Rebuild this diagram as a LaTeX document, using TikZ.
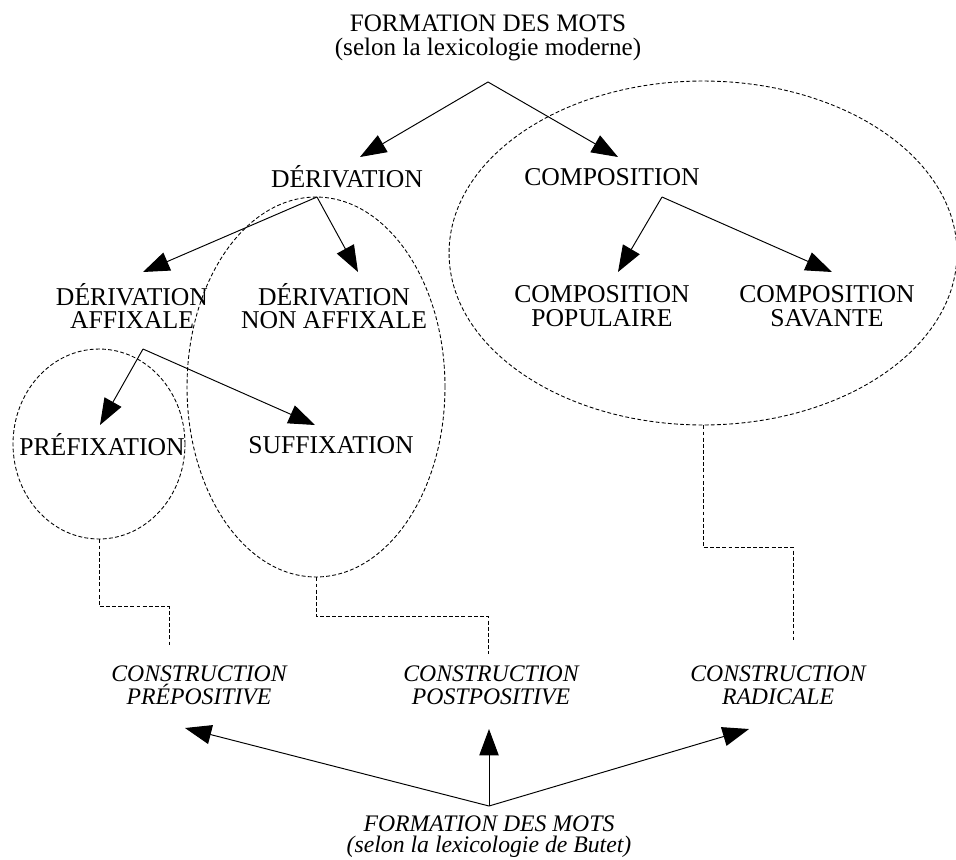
\documentclass[tikz,border=0pt]{standalone}
\usepackage{fontspec}
\setmainfont{Liberation Serif}
\usetikzlibrary{arrows.meta,shapes.geometric}

\tikzset{
    lbl/.style={align=center, inner sep=1pt, font=\fontsize{14.6}{13.4}\selectfont},
    ilbl/.style={align=center, inner sep=1pt, font=\fontsize{13.5}{13}\selectfont\itshape},
    ttl/.style={align=center, inner sep=1pt, font=\fontsize{14.3}{13.6}\selectfont},
    arr/.style={-{Triangle[length=15pt,width=11pt]}, line width=0.55pt},
    zone/.style={ellipse, draw, dash pattern=on 2.2pt off 1.3pt, line width=0.5pt, inner sep=0pt},
    link/.style={dash pattern=on 2.2pt off 1.3pt, line width=0.5pt}
}

\begin{document}
\begin{tikzpicture}[x=0.02cm, y=-0.02cm]
        \useasboundingbox (0,0) rectangle (956,859);

        \node[zone, minimum width=3.44cm, minimum height=3.8cm] (ePre) at (99,444) {};
        \node[zone, minimum width=5.16cm, minimum height=7.6cm] (eMid) at (316,387) {};
        \node[zone, minimum width=10.16cm, minimum height=6.88cm] (eCom) at (703,253) {};

        \node[ttl] (haut) at (488,38) {FORMATION DES MOTS\\(selon la lexicologie moderne)};
        \node[lbl] (deriv) at (347,177) {DÉRIVATION};
        \node[lbl] (compo) at (612,177) {COMPOSITION};
        \node[lbl] (dAff) at (132,306) {DÉRIVATION\\AFFIXALE};
        \node[lbl] (dNon) at (334,306) {DÉRIVATION\\NON AFFIXALE};
        \node[lbl] (cPop) at (602,306) {COMPOSITION\\POPULAIRE};
        \node[lbl] (cSav) at (827,306) {COMPOSITION\\SAVANTE};
        \node[lbl] (pref) at (102,445) {PRÉFIXATION};
        \node[lbl] (suff) at (331,445) {SUFFIXATION};

        \node[ilbl] (cPre) at (199,685) {CONSTRUCTION\\PRÉPOSITIVE};
        \node[ilbl] (cPost) at (491,685) {CONSTRUCTION\\POSTPOSITIVE};
        \node[ilbl] (cRad) at (778,685) {CONSTRUCTION\\RADICALE};
        \node[ttl, font=\fontsize{13.5}{12}\selectfont\itshape] (bas) at (489,837) {FORMATION DES MOTS\\(selon la lexicologie de Butet)};

        \coordinate (fTop) at (488,82);
        \coordinate (fDer) at (317,197);
        \coordinate (fCom) at (662,197);
        \coordinate (fAff) at (143,349);
        \coordinate (fBot) at (489,806);

        \draw[arr] (fTop) -- ([shift={(13,-20)}]deriv.center);
        \draw[arr] (fTop) -- ([shift={(6,-20)}]compo.center);
        \draw[arr] (fDer) -- ([shift={(11,-34)}]dAff.center);
        \draw[arr] (fDer) -- ([shift={(24,-34)}]dNon.center);
        \draw[arr] (fCom) -- ([shift={(16,-34)}]cPop.center);
        \draw[arr] (fCom) -- ([shift={(5,-34)}]cSav.center);
        \draw[arr] (fAff) -- ([shift={(-2,-20)}]pref.center);
        \draw[arr] (fAff) -- ([shift={(-16,-20)}]suff.center);
        \draw[arr] (fBot) -- ([shift={(-14,43)}]cPre.center);
        \draw[arr] (fBot) -- ([shift={(-2,44)}]cPost.center);
        \draw[arr] (fBot) -- ([shift={(-29,44)}]cRad.center);

        \coordinate (sPre) at (169,645);
        \coordinate (sPost) at (488,654);
        \coordinate (sRad) at (793,640);

        \draw[link] (ePre.south) -- ++(0,67) -| (sPre);
        \draw[link] (eMid.south) -- ++(0,39) -| (sPost);
        \draw[link] (eCom.south) -- ++(0,122) -| (sRad);

    \end{tikzpicture}
\end{document}
